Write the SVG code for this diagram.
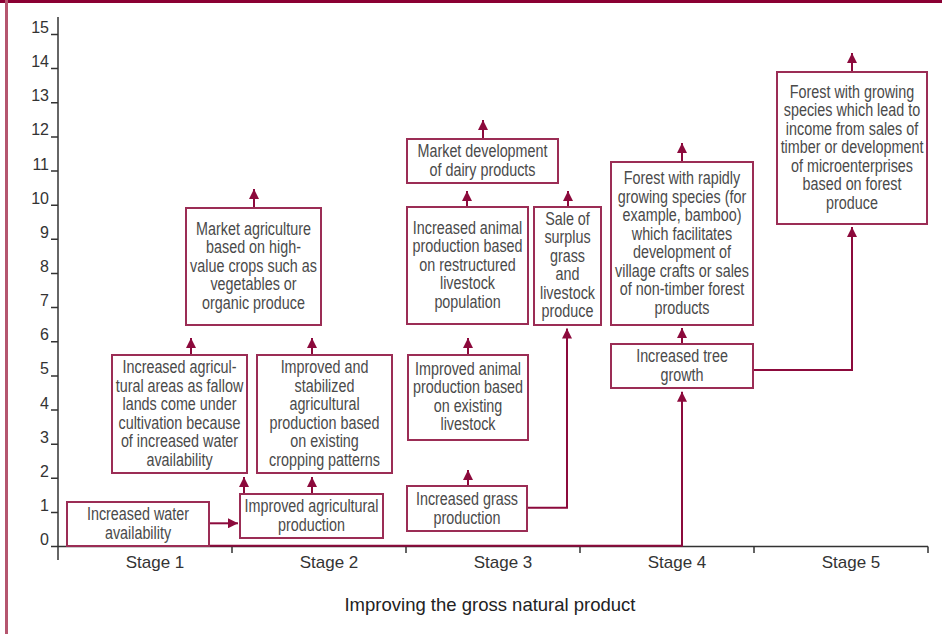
<svg xmlns="http://www.w3.org/2000/svg" width="942" height="634" viewBox="0 0 942 634">
  <style>
    .box rect { fill: #ffffff; stroke: #9b2d55; stroke-width: 2; }
    .box text { font-family: "Liberation Sans", Arial, sans-serif; font-size: 17.5px; fill: #4a4a4a; text-anchor: middle; }
    .axis { stroke: #333333; stroke-width: 1.5; fill: none; }
    .ylab { font-family: "Liberation Sans", Arial, sans-serif; font-size: 16px; fill: #333333; text-anchor: end; }
    .stage { font-family: "Liberation Sans", Arial, sans-serif; font-size: 17px; fill: #333333; text-anchor: middle; }
    .title { font-family: "Liberation Sans", Arial, sans-serif; font-size: 18.5px; fill: #222222; text-anchor: middle; }
    .conn path { stroke: #8c0a3c; stroke-width: 2; fill: none; marker-end: url(#arrow); }
  </style>
  <defs>
    <marker id="arrow" markerUnits="userSpaceOnUse" markerWidth="10" markerHeight="10" refX="10" refY="5" orient="auto">
      <path d="M0,0 L10,5 L0,10 z" fill="#8c0a3c"/>
    </marker>
  </defs>

  <!-- page frame -->
  <rect x="0" y="0" width="942" height="634" fill="#ffffff"/>
  <rect x="0" y="0" width="942" height="3" fill="#8a0033"/>
  <rect x="5" y="0" width="3" height="634" fill="#b5566f"/>

  <!-- axes -->
  <g id="axes">
    <path class="axis" d="M58,17 V560"/>
    <path class="axis" d="M58,546.5 H928"/>
    <path class="axis" d="M51,34.5 H58 M51,68.6 H58 M51,102.8 H58 M51,136.9 H58 M51,171.1 H58 M51,205.2 H58 M51,239.3 H58 M51,273.5 H58 M51,307.6 H58 M51,341.8 H58 M51,375.9 H58 M51,410 H58 M51,444.2 H58 M51,478.3 H58 M51,512.5 H58 M51,546.5 H58"/>
    <path class="axis" d="M232,546.5 V553 M406,546.5 V553 M580,546.5 V553 M754,546.5 V553 M928,546.5 V553"/>
    <text class="ylab" x="49" y="33">15</text>
    <text class="ylab" x="49" y="67">14</text>
    <text class="ylab" x="49" y="101">13</text>
    <text class="ylab" x="49" y="135">12</text>
    <text class="ylab" x="49" y="170">11</text>
    <text class="ylab" x="49" y="204">10</text>
    <text class="ylab" x="49" y="238">9</text>
    <text class="ylab" x="49" y="272">8</text>
    <text class="ylab" x="49" y="306">7</text>
    <text class="ylab" x="49" y="340">6</text>
    <text class="ylab" x="49" y="374">5</text>
    <text class="ylab" x="49" y="409">4</text>
    <text class="ylab" x="49" y="443">3</text>
    <text class="ylab" x="49" y="477">2</text>
    <text class="ylab" x="49" y="511">1</text>
    <text class="ylab" x="49" y="545">0</text>
    <text class="stage" x="155" y="568">Stage 1</text>
    <text class="stage" x="329" y="568">Stage 2</text>
    <text class="stage" x="503" y="568">Stage 3</text>
    <text class="stage" x="677" y="568">Stage 4</text>
    <text class="stage" x="851" y="568">Stage 5</text>
    <text class="title" x="490" y="611">Improving the gross natural product</text>
  </g>

  <!-- connectors -->
  <g id="connectors" class="conn">
    <path d="M209,523.3 H238"/>
    <path d="M244,494 V477"/>
    <path d="M312,494 V477"/>
    <path d="M191,355 V338"/>
    <path d="M312,355 V338"/>
    <path d="M254,208 V189"/>
    <path d="M468,486 V470"/>
    <path d="M527,507.7 H567 V328.5"/>
    <path d="M468,355 V338"/>
    <path d="M467,207 V191"/>
    <path d="M568,207 V191"/>
    <path d="M483,139 V120"/>
    <path d="M67,545.7 H682 V391.7"/>
    <path d="M682,344 V328"/>
    <path d="M682,162 V143"/>
    <path d="M753,370 H852 V227"/>
    <path d="M852,72 V53"/>
  </g>

  <!-- Stage 1 / 2 (text is set in a horizontally condensed face) -->
  <g id="water" class="box">
    <rect x="67" y="502" width="142" height="44"/>
    <g transform="translate(138 0) scale(0.82 1)">
      <text x="0" y="520">Increased water</text>
      <text x="0" y="539">availability</text>
    </g>
  </g>
  <g id="agri-production" class="box">
    <rect x="240" y="494" width="143" height="44"/>
    <g transform="translate(311.5 0) scale(0.82 1)">
      <text x="0" y="512">Improved agricultural</text>
      <text x="0" y="531">production</text>
    </g>
  </g>
  <g id="agri-areas" class="box">
    <rect x="112" y="355" width="135" height="118"/>
    <g transform="translate(179.5 0) scale(0.82 1)">
      <text x="0" y="373.3">Increased agricul-</text>
      <text x="0" y="391.8">tural areas as fallow</text>
      <text x="0" y="410.3">lands come under</text>
      <text x="0" y="428.8">cultivation because</text>
      <text x="0" y="447.3">of increased water</text>
      <text x="0" y="465.8">availability</text>
    </g>
  </g>
  <g id="agri-stabilized" class="box">
    <rect x="257" y="355" width="135" height="118"/>
    <g transform="translate(324.5 0) scale(0.82 1)">
      <text x="0" y="373.3">Improved and</text>
      <text x="0" y="391.8">stabilized</text>
      <text x="0" y="410.3">agricultural</text>
      <text x="0" y="428.8">production based</text>
      <text x="0" y="447.3">on existing</text>
      <text x="0" y="465.8">cropping patterns</text>
    </g>
  </g>
  <g id="market-agri" class="box">
    <rect x="186" y="208" width="135" height="117"/>
    <g transform="translate(253.5 0) scale(0.82 1)">
      <text x="0" y="235">Market agriculture</text>
      <text x="0" y="253.5">based on high-</text>
      <text x="0" y="272">value crops such as</text>
      <text x="0" y="290.5">vegetables or</text>
      <text x="0" y="309">organic produce</text>
    </g>
  </g>

  <!-- Stage 3 -->
  <g id="grass" class="box">
    <rect x="407" y="486" width="120" height="45"/>
    <g transform="translate(467 0) scale(0.82 1)">
      <text x="0" y="505">Increased grass</text>
      <text x="0" y="524">production</text>
    </g>
  </g>
  <g id="animal-existing" class="box">
    <rect x="408" y="355" width="120" height="85"/>
    <g transform="translate(468 0) scale(0.82 1)">
      <text x="0" y="375">Improved animal</text>
      <text x="0" y="393.5">production based</text>
      <text x="0" y="412">on existing</text>
      <text x="0" y="430.5">livestock</text>
    </g>
  </g>
  <g id="animal-restructured" class="box">
    <rect x="407" y="207" width="121" height="117"/>
    <g transform="translate(467.5 0) scale(0.82 1)">
      <text x="0" y="234">Increased animal</text>
      <text x="0" y="252.5">production based</text>
      <text x="0" y="271">on restructured</text>
      <text x="0" y="289.5">livestock</text>
      <text x="0" y="308">population</text>
    </g>
  </g>
  <g id="surplus" class="box">
    <rect x="534" y="207" width="67" height="118"/>
    <g transform="translate(567.5 0) scale(0.82 1)">
      <text x="0" y="224.8">Sale of</text>
      <text x="0" y="243.3">surplus</text>
      <text x="0" y="261.8">grass</text>
      <text x="0" y="280.3">and</text>
      <text x="0" y="298.8">livestock</text>
      <text x="0" y="317.3">produce</text>
    </g>
  </g>
  <g id="dairy" class="box">
    <rect x="407" y="139" width="151" height="44"/>
    <g transform="translate(482.5 0) scale(0.82 1)">
      <text x="0" y="157">Market development</text>
      <text x="0" y="176">of dairy products</text>
    </g>
  </g>

  <!-- Stage 4 / 5 -->
  <g id="tree-growth" class="box">
    <rect x="611" y="344" width="142" height="44"/>
    <g transform="translate(682 0) scale(0.82 1)">
      <text x="0" y="362">Increased tree</text>
      <text x="0" y="381">growth</text>
    </g>
  </g>
  <g id="forest-rapid" class="box">
    <rect x="611" y="162" width="142" height="163"/>
    <g transform="translate(682 0) scale(0.82 1)">
      <text x="0" y="184.3">Forest with rapidly</text>
      <text x="0" y="202.8">growing species (for</text>
      <text x="0" y="221.3">example, bamboo)</text>
      <text x="0" y="239.8">which facilitates</text>
      <text x="0" y="258.3">development of</text>
      <text x="0" y="276.8">village crafts or sales</text>
      <text x="0" y="295.3">of non-timber forest</text>
      <text x="0" y="313.8">products</text>
    </g>
  </g>
  <g id="forest-timber" class="box">
    <rect x="777" y="72" width="150" height="152"/>
    <g transform="translate(852 0) scale(0.82 1)">
      <text x="0" y="98">Forest with growing</text>
      <text x="0" y="116.5">species which lead to</text>
      <text x="0" y="135">income from sales of</text>
      <text x="0" y="153.5">timber or development</text>
      <text x="0" y="172">of microenterprises</text>
      <text x="0" y="190.5">based on forest</text>
      <text x="0" y="209">produce</text>
    </g>
  </g>
</svg>
